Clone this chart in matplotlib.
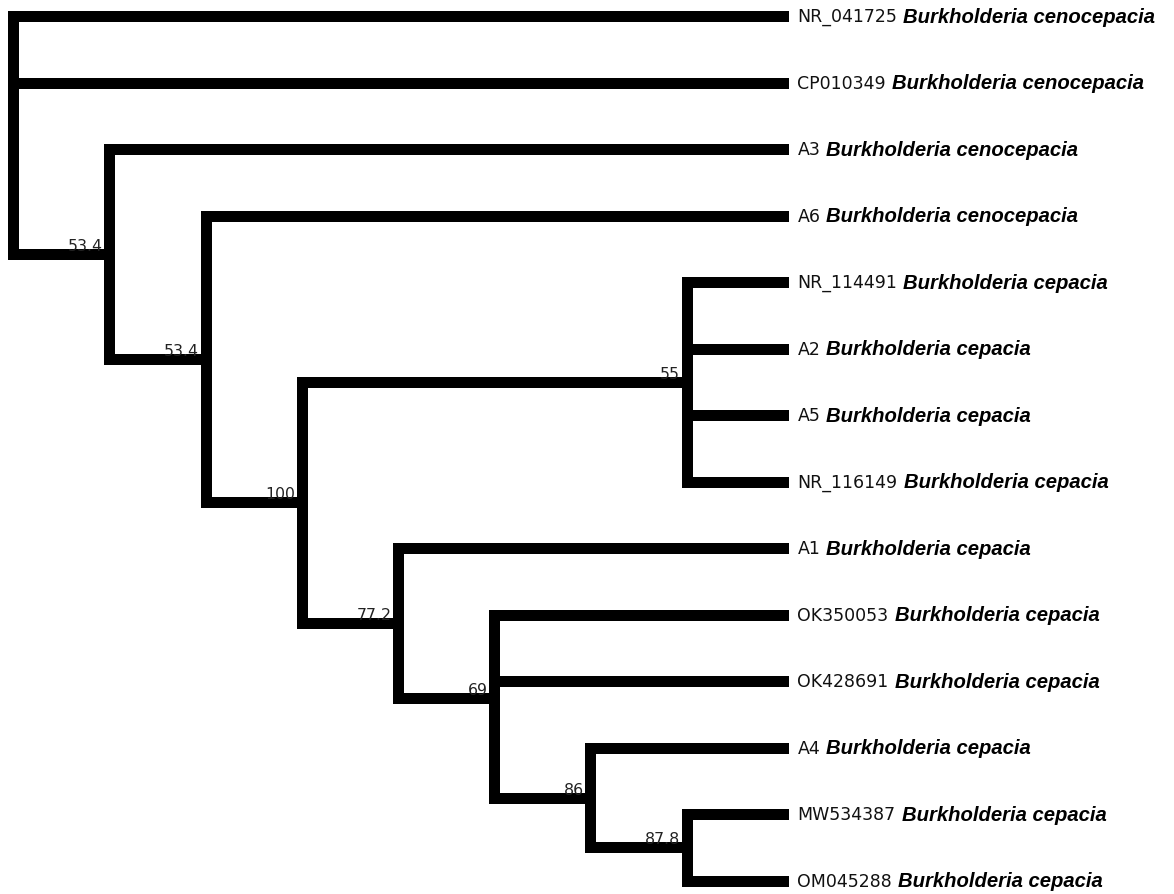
#!/usr/bin/env python3
import matplotlib
matplotlib.use("Agg")
import matplotlib.pyplot as plt

# topologie (newick) avec les valeurs de support sur les noeuds internes
NEWICK = ("(NR_041725,CP010349,(A3,(A6,((NR_114491,A2,A5,NR_116149)55,"
          "(A1,(OK350053,OK428691,(A4,(MW534387,OM045288)87.8)86)69)77.2)100)53.4)53.4);")

feuilles = ["NR_041725", "CP010349", "A3", "A6", "NR_114491", "A2", "A5",
            "NR_116149", "A1", "OK350053", "OK428691", "A4", "MW534387", "OM045288"]
especes = ["Burkholderia cenocepacia"] * 4 + ["Burkholderia cepacia"] * 10

LW_PX = 11
DPI = 100


def parse(s, i=0):
    noeud = {"children": [], "name": ""}
    if s[i] == "(":
        i += 1
        while True:
            enfant, i = parse(s, i)
            noeud["children"].append(enfant)
            if s[i] == ",":
                i += 1
                continue
            if s[i] == ")":
                i += 1
                break
    j = i
    while i < len(s) and s[i] not in ",);":
        i += 1
    noeud["name"] = s[j:i]
    return noeud, i


def hauteur(n):
    if not n["children"]:
        n["h"] = 0
    else:
        n["h"] = 1 + max(hauteur(c) for c in n["children"])
    return n["h"]


def place(n, compteur, hmax):
    n["x"] = hmax - n["h"]
    if not n["children"]:
        n["y"] = compteur[0]
        compteur[0] += 1
    else:
        for c in n["children"]:
            place(c, compteur, hmax)
        ys = [c["y"] for c in n["children"]]
        n["y"] = sum(ys) / len(ys)


def dessine(ax, n, parent=None):
    lw = LW_PX * 72 / DPI
    kw = dict(color="black", lw=lw, solid_capstyle="projecting")
    if parent is not None:
        ax.plot([parent["x"], n["x"]], [n["y"], n["y"]], **kw)
    if n["children"]:
        ys = [c["y"] for c in n["children"]]
        ax.plot([n["x"], n["x"]], [min(ys), max(ys)], **kw)
        if parent is not None and n["name"]:
            ax.annotate(n["name"], xy=(n["x"], n["y"]),
                        xytext=(-LW_PX / 2 - 1, LW_PX / 2 - 1.5),
                        textcoords="offset pixels", ha="right", va="baseline",
                        fontsize=11.3, color="#222222", family="DejaVu Sans")
        for c in n["children"]:
            dessine(ax, c, n)


def main():
    racine, _ = parse(NEWICK)
    hmax = hauteur(racine)
    place(racine, [0], hmax)

    fig = plt.figure(figsize=(11.74, 8.95), dpi=DPI)
    ax = fig.add_axes([0, 0, 1, 1])
    ax.set_axis_off()

    x0, pas_x = 13.3, 96.2
    y0, pas_y = 17.2, 66.5
    ax.set_xlim(-x0 / pas_x, (1174 - x0) / pas_x)
    ax.set_ylim((895 - y0) / pas_y, -y0 / pas_y)

    dessine(ax, racine)

    for i, (nom, esp) in enumerate(zip(feuilles, especes)):
        t = ax.annotate(nom, xy=(hmax, i), xytext=(LW_PX / 2 + 9, 0),
                        textcoords="offset pixels", ha="left", va="center",
                        fontsize=12.5, color="#111111", family="DejaVu Sans")
        ax.annotate(esp, xy=(1, 0.2), xycoords=t, xytext=(6, 0),
                    textcoords="offset pixels", ha="left", va="baseline",
                    fontsize=14.6, fontweight="bold", fontstyle="italic",
                    family="Liberation Sans")

    fig.savefig("out.png", dpi=DPI)


if __name__ == "__main__":
    main()
